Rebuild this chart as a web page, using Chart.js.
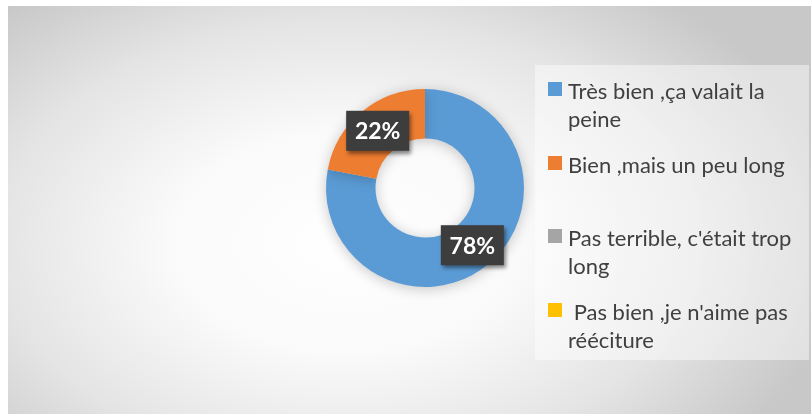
<!DOCTYPE html>
<html>
<head>
<meta charset="utf-8">
<script src="https://cdn.jsdelivr.net/npm/chart.js@4/dist/chart.umd.min.js"></script>
<style>
  body { margin: 0; background: #fff; width: 811px; height: 414px; overflow: hidden; position: relative; }
  #frame {
    position: absolute; left: 8px; top: 6px; width: 803px; height: 408px;
    background: radial-gradient(ellipse 62% 78% at 42% 58%, #ffffff 0%, #fafafa 35%, #e4e4e4 70%, #c8c8c8 100%);
  }
  #myChart { position: absolute; left: 0; top: 0; }
  #legend {
    position: absolute; left: 527px; top: 59px; width: 274px; height: 295px;
    background: rgba(255,255,255,0.45);
  }
  .item { position: absolute; left: 0; width: 274px; }
  .box { position: absolute; left: 13px; width: 14px; height: 14px; }
  .txt {
    position: absolute; left: 33px; width: 238px;
    font-family: Lato, sans-serif; font-size: 22px; line-height: 28px; color: #404040;
    white-space: pre-wrap;
  }
</style>
</head>
<body>
<div id="frame">
  <canvas id="myChart" width="803" height="408"></canvas>
  <div id="legend"></div>
</div>
<script>
// Answers and shares (percent)
var labels = ["Très bien ,ça valait la peine", "Bien ,mais un peu long", "Pas terrible, c'était trop long", " Pas bien ,je n'aime pas rééciture"];
var values = [78, 22, 0, 0];
var colors = ["#5B9BD5", "#ED7D31", "#A5A5A5", "#FFC000"];

//Soft glow under the ring
var glowPlugin = {
    id: 'glow',
    beforeDatasetsDraw: function(chart){
        var ctx = chart.ctx;
        ctx.save();
        ctx.shadowColor = 'rgba(0,0,0,0.22)';
        ctx.shadowBlur = 14;
        ctx.shadowOffsetY = 2;
    },
    afterDatasetsDraw: function(chart){
        chart.ctx.restore();
    }
};

//Dark percent boxes on each slice
var boxLabels = {
    id: 'boxLabels',
    afterDraw: function(chart){
        var ctx = chart.ctx;
        var data = chart.data.datasets[0].data;
        var total = data.reduce(function(a, b){ return a + b; }, 0);
        chart.getDatasetMeta(0).data.forEach(function(arc, i){
            if(!data[i]) return;
            var p = arc.tooltipPosition();
            var w = 63, h = 40;
            ctx.save();
            ctx.shadowColor = 'rgba(0,0,0,0.45)';
            ctx.shadowBlur = 4;
            ctx.shadowOffsetX = 2;
            ctx.shadowOffsetY = 3;
            ctx.fillStyle = '#3d3d3d';
            ctx.fillRect(p.x - w / 2, p.y - h / 2, w, h);
            ctx.restore();
            ctx.save();
            ctx.fillStyle = '#ffffff';
            ctx.font = 'bold 23px Lato, sans-serif';
            ctx.textAlign = 'center';
            ctx.textBaseline = 'middle';
            ctx.fillText(Math.round(data[i] / total * 100) + '%', p.x, p.y + 1);
            ctx.restore();
        });
    }
};

var chart = new Chart(document.getElementById('myChart'), {
    type: 'doughnut',
    data: {
        labels: labels,
        datasets: [{
            data: values,
            backgroundColor: colors,
            borderWidth: 0,
            radius: 99,
            cutout: '50%'
        }]
    },
    options: {
        responsive: false,
        animation: false,
        layout: { padding: { left: 287, right: 256, top: 52, bottom: 96 } },
        plugins: {
            legend: { display: false },
            tooltip: { enabled: false }
        }
    },
    plugins: [glowPlugin, boxLabels]
});

//Legend built from the same arrays
var legend = document.getElementById('legend');
labels.forEach(function(label, i){
    var top = 17 + i * 73.7;
    var item = document.createElement('div');
    item.className = 'item';
    item.style.top = top + 'px';
    item.innerHTML = '<div class="box" style="top:0;background:' + colors[i] + '"></div>' +
        '<div class="txt" style="top:-5px"></div>';
    item.querySelector('.txt').textContent = label;
    legend.appendChild(item);
});
</script>
</body>
</html>
